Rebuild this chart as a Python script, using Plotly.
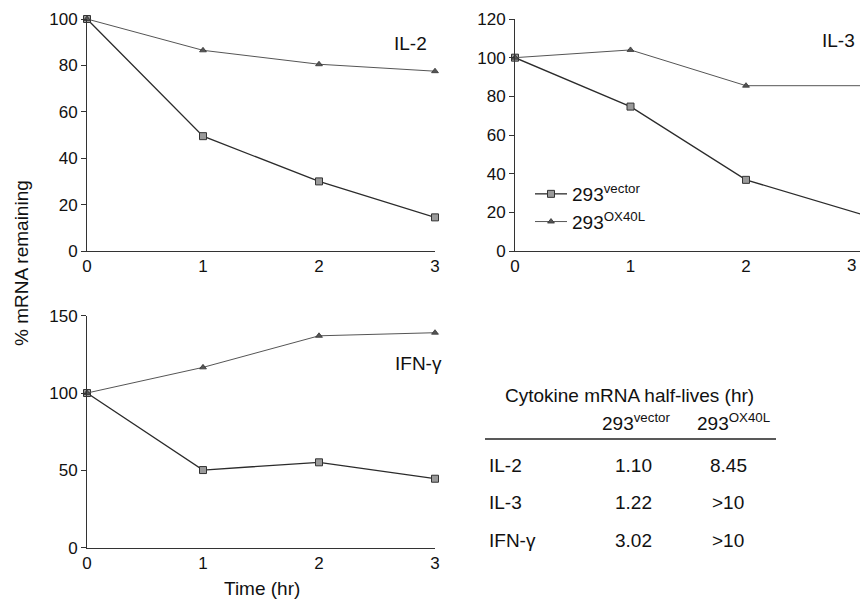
import plotly.graph_objects as go

W, H = 860, 601

time = [0, 1, 2, 3]
il2_vector = [100, 49.5, 30, 14.5]
il2_ox40l = [100, 86.5, 80.5, 77.5]
il3_vector = [100, 74.7, 36.8, 19]
il3_ox40l = [100, 104, 85.5, 85.5]
ifn_vector = [100, 50.2, 55.2, 44.6]
ifn_ox40l = [100, 116.6, 137, 139]

x_ticks = [0, 1, 2, 3]
il2_yticks = [0, 20, 40, 60, 80, 100]
il3_yticks = [0, 20, 40, 60, 80, 100, 120]
ifn_yticks = [0, 50, 100, 150]

panel_labels = ["IL-2", "IL-3", "IFN-γ"]
table_title = "Cytokine mRNA half-lives (hr)"
table_cols = ["293<sup>vector</sup>", "293<sup>OX40L</sup>"]
table_rows = ["IL-2", "IL-3", "IFN-γ"]
vector_half = ["1.10", "1.22", "3.02"]
ox40l_half = ["8.45", ">10", ">10"]

FONT = "Liberation Sans, Arial, sans-serif"
VEC_LINE = dict(color="#2b2b2b", width=1.3)
OX_LINE = dict(color="#555555", width=1)
VEC_MARK = dict(symbol="square", size=7, color="#9a9a9a", line=dict(color="#333333", width=1))
OX_MARK = dict(symbol="triangle-up", size=6, color="#555555", line=dict(color="#333333", width=0.8))


def px_x(p):
    return p / W


def px_y(p):
    return (H - p) / H


fig = go.Figure()

panels = [
    ("x", "y", il2_vector, il2_ox40l, True),
    ("x2", "y2", il3_vector, il3_ox40l, False),
    ("x3", "y3", ifn_vector, ifn_ox40l, False),
]
for xa, ya, vec, ox, show in panels:
    fig.add_trace(go.Scatter(x=time, y=vec, xaxis=xa, yaxis=ya, mode="lines+markers",
                             line=VEC_LINE, marker=VEC_MARK, cliponaxis=False,
                             name="293<sup>vector</sup>", showlegend=show))
    fig.add_trace(go.Scatter(x=time, y=ox, xaxis=xa, yaxis=ya, mode="lines+markers",
                             line=OX_LINE, marker=OX_MARK, cliponaxis=False,
                             name="293<sup>OX40L</sup>", showlegend=show))

axis_common = dict(showgrid=False, zeroline=False, showline=True, linecolor="#333333",
                   linewidth=1, automargin=False,
                   tickfont=dict(family=FONT, size=17, color="#111111"))

top_dom = [px_y(251), px_y(19)]
bot_dom = [px_y(547.7), px_y(315.7)]

fig.update_layout(
    width=W, height=H, margin=dict(l=0, r=0, t=0, b=0, autoexpand=False),
    paper_bgcolor="white", plot_bgcolor="white",
    font=dict(family=FONT, size=19, color="#111111"),
    xaxis=dict(domain=[px_x(87), px_x(435)], range=[0, 3], tickvals=x_ticks, ticks="",
               anchor="y", **axis_common),
    yaxis=dict(domain=top_dom, range=[0, 100], tickvals=il2_yticks, ticks="outside",
               ticklen=5, tickcolor="#333333", anchor="x", **axis_common),
    xaxis2=dict(domain=[px_x(515), 1.0], range=[0, 2.987], tickvals=x_ticks, ticks="",
                anchor="y2", **axis_common),
    yaxis2=dict(domain=top_dom, range=[0, 120], tickvals=il3_yticks, ticks="outside",
                ticklen=5, tickcolor="#333333", anchor="x2", **axis_common),
    xaxis3=dict(domain=[px_x(87), px_x(435)], range=[0, 3], tickvals=x_ticks, ticks="",
                anchor="y3", **axis_common),
    yaxis3=dict(domain=bot_dom, range=[0, 150], tickvals=ifn_yticks, ticks="outside",
                ticklen=5, tickcolor="#333333", anchor="x3", **axis_common),
    legend=dict(x=px_x(530), y=px_y(175), xanchor="left", yanchor="top",
                bgcolor="rgba(0,0,0,0)", font=dict(family=FONT, size=19, color="#111111"),
                itemwidth=32, tracegroupgap=0),
    showlegend=True,
)

ann = []
# panel labels
ann.append(dict(text=panel_labels[0], x=px_x(410), y=px_y(43)))
ann.append(dict(text=panel_labels[1], x=px_x(857), y=px_y(40), xanchor="right"))
ann.append(dict(text=panel_labels[2], x=px_x(418), y=px_y(363)))
# "3" tick of right panel at the figure edge
ann.append(dict(text="3", x=px_x(858), y=px_y(265), xanchor="right", size=17))
# axis titles
ann.append(dict(text="% mRNA remaining", x=px_x(21), y=px_y(263), textangle=-90))
ann.append(dict(text="Time (hr)", x=px_x(262), y=px_y(588)))
# table
ann.append(dict(text=table_title, x=px_x(629), y=px_y(395)))
ann.append(dict(text=table_cols[0], x=px_x(636), y=px_y(422)))
ann.append(dict(text=table_cols[1], x=px_x(733), y=px_y(422)))
row_y = [465, 502, 540]
for lab, v, o, yy in zip(table_rows, vector_half, ox40l_half, row_y):
    ann.append(dict(text=lab, x=px_x(487), y=px_y(yy), xanchor="left"))
    ann.append(dict(text=v, x=px_x(633), y=px_y(yy)))
    ann.append(dict(text=o, x=px_x(728), y=px_y(yy)))

for a in ann:
    a.setdefault("xanchor", "center")
    size = a.pop("size", 19)
    a.update(xref="paper", yref="paper", yanchor="middle", showarrow=False,
             font=dict(family=FONT, size=size, color="#111111"))
fig.update_layout(annotations=ann)

fig.add_shape(type="line", xref="paper", yref="paper", x0=px_x(485), x1=px_x(776),
              y0=px_y(439), y1=px_y(439), line=dict(color="#222222", width=1.5))

fig.write_html("out.html", config={"displayModeBar": False},
               post_script="document.body.style.margin='0px';document.body.style.overflow='hidden';")
